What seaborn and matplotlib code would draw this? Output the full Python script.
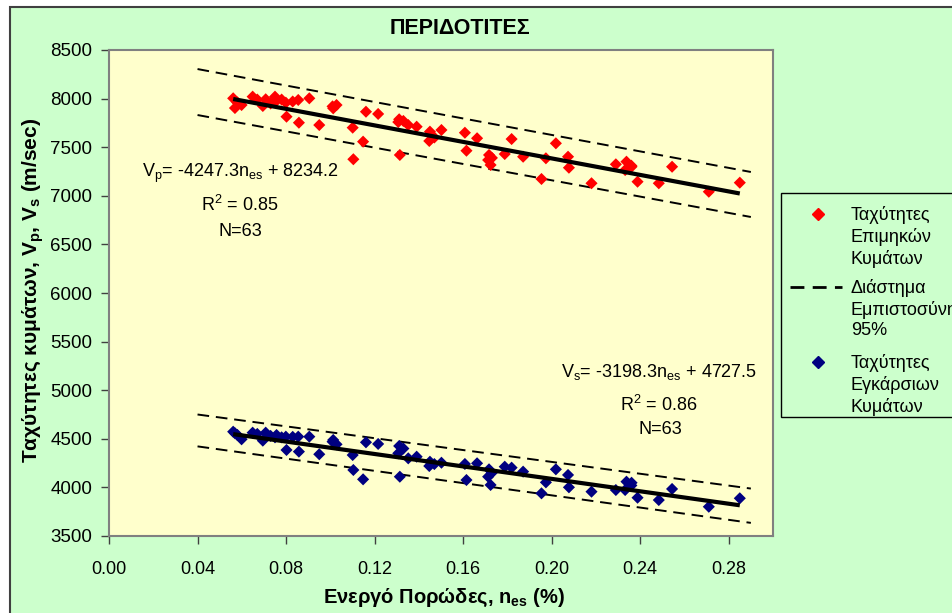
import numpy as np
import pandas as pd
import matplotlib
matplotlib.use("Agg")
import matplotlib.pyplot as plt
from matplotlib.lines import Line2D
from matplotlib.patches import Rectangle
import seaborn as sns

# Effective porosity (fraction) and wave velocities (m/sec) for 63 peridotite samples
n_es = [0.0561, 0.0569, 0.0599, 0.0649, 0.0695, 0.0708, 0.0750, 0.0757, 0.0799, 0.0802,
        0.0855, 0.0858, 0.0905, 0.0950, 0.1013, 0.1028, 0.1101, 0.1104, 0.1148, 0.1161,
        0.1216, 0.1311, 0.1307, 0.1314, 0.1352, 0.1390, 0.1447, 0.1450, 0.1502, 0.1608,
        0.1615, 0.1663, 0.1713, 0.1717, 0.1724, 0.1788, 0.1819, 0.1871, 0.1954, 0.1974,
        0.2019, 0.2074, 0.2078, 0.2180, 0.2290, 0.2338, 0.2361, 0.2332, 0.2388, 0.2484,
        0.2544, 0.2710, 0.2850,
        0.0580, 0.0670, 0.0730, 0.0780, 0.0830, 0.1010, 0.1330, 0.1470, 0.1730, 0.2360]
vp = [8003, 7903, 7934, 8020, 7924, 7993, 8020, 7978, 7958, 7814,
      7986, 7752, 8003, 7728, 7900, 7934, 7701, 7376, 7557, 7865,
      7842, 7787, 7759, 7420, 7728, 7711, 7564, 7660, 7677, 7649,
      7464, 7592, 7368, 7420, 7317, 7430, 7584, 7402, 7173, 7386,
      7540, 7402, 7289, 7129, 7324, 7351, 7299, 7265, 7145, 7129,
      7299, 7042, 7135,
      7960, 7990, 7950, 7990, 7970, 7920, 7770, 7600, 7390, 7310]
vs = [4573, 4557, 4495, 4563, 4481, 4563, 4515, 4539, 4522, 4385,
      4522, 4368, 4522, 4341, 4488, 4443, 4333, 4179, 4083, 4464,
      4447, 4426, 4351, 4110, 4299, 4316, 4220, 4264, 4254, 4241,
      4076, 4248, 4110, 4186, 4025, 4213, 4203, 4162, 3939, 4052,
      4186, 4128, 4001, 3956, 3973, 4059, 4048, 3973, 3894, 3870,
      3984, 3801, 3888,
      4540, 4550, 4530, 4515, 4520, 4470, 4400, 4240, 4150, 4020]

# Linear fits V = a * n_es + b
fit_p = (-4247.3, 8234.2)
fit_s = (-3198.3, 4727.5)

# 95% confidence band end points (n_es, lower, upper)
band_x = [0.04, 0.29]
band_p_low = [7831, 6782]
band_p_high = [8304, 7245]
band_s_low = [4422, 3635]
band_s_high = [4750, 3988]

x_ticks = [0.00, 0.04, 0.08, 0.12, 0.16, 0.20, 0.24, 0.28]
y_ticks = [3500, 4000, 4500, 5000, 5500, 6000, 6500, 7000, 7500, 8000, 8500]

legend_labels = ["Ταχύτητες\nΕπιμηκών\nΚυμάτων",
                 "Διάστημα\nΕμπιστοσύνης\n95%",
                 "Ταχύτητες\nΕγκάρσιων\nΚυμάτων"]

sns.set_theme(style="white")
plt.rcParams["font.family"] = ["Liberation Sans", "DejaVu Sans"]
plt.rcParams["mathtext.fontset"] = "custom"
plt.rcParams["mathtext.rm"] = "Liberation Sans"
plt.rcParams["mathtext.it"] = "Liberation Sans"
plt.rcParams["mathtext.bf"] = "Liberation Sans:bold"
plt.rcParams["text.color"] = "black"
plt.rcParams["axes.labelcolor"] = "black"
plt.rcParams["xtick.color"] = "black"
plt.rcParams["ytick.color"] = "black"

W, H = 953, 613
fig = plt.figure(figsize=(W / 100, H / 100), dpi=100, facecolor="white")


def fx(px):
    return px / W


def fy(py):
    return 1 - py / H


# chart area background
fig.patches.append(Rectangle((fx(10), -0.05), 1.2, fy(7) + 0.05,
                             transform=fig.transFigure, facecolor="#CCFFCC",
                             edgecolor="#404040", linewidth=1.5, zorder=-5))

ax = fig.add_axes([fx(109), fy(536), (773 - 109) / W, (536 - 50) / H])
ax.set_facecolor("#FFFFCC")

df = pd.DataFrame({
    "n_es": n_es * 2,
    "V": vp + vs,
    "kind": ["P"] * len(vp) + ["S"] * len(vs),
})

sns.scatterplot(data=df, x="n_es", y="V", hue="kind",
                palette={"P": "#FF0000", "S": "#000080"},
                marker="D", s=38, linewidth=0, legend=False, ax=ax, zorder=3)

xs = np.array([min(n_es), max(n_es)])
for a, b in (fit_p, fit_s):
    ax.plot(xs, a * xs + b, color="black", lw=3.0, solid_capstyle="butt", zorder=4)

for lo, hi in ((band_p_low, band_p_high), (band_s_low, band_s_high)):
    for yy in (lo, hi):
        ax.plot(band_x, yy, color="black", lw=1.4, dashes=(6, 3.5), zorder=2)

ax.set_xlim(0, 0.30)
ax.set_ylim(3500, 8500)
ax.set_xticks(x_ticks)
ax.set_xticklabels([f"{t:.2f}" for t in x_ticks])
ax.set_yticks(y_ticks)
ax.set_yticklabels([str(t) for t in y_ticks])
ax.tick_params(axis="both", which="both", direction="out", length=6, width=1,
               color="#404040", labelcolor="black", bottom=True, left=True)
ax.tick_params(axis="x", pad=12, labelsize=13)
ax.tick_params(axis="y", pad=6, labelsize=13.5)
for sp in ax.spines.values():
    sp.set_color("#808080")
    sp.set_linewidth(1.5)
ax.set_xlabel("")
ax.set_ylabel("")

# fit annotations
txt_kw = dict(transform=ax.transData, ha="center", va="center", fontsize=13, color="black")
ax.text(0.0592, 7230, r"V$_\mathregular{p}$= -4247.3n$_\mathregular{es}$ + 8234.2", **txt_kw)
ax.text(0.0592, 6905, r"R$^\mathregular{2}$ = 0.85", **txt_kw)
ax.text(0.0592, 6628, "N=63", **txt_kw)
ax.text(0.2484, 5190, r"V$_\mathregular{s}$= -3198.3n$_\mathregular{es}$ + 4727.5", **txt_kw)
ax.text(0.2484, 4848, r"R$^\mathregular{2}$ = 0.86", **txt_kw)
ax.text(0.2493, 4591, "N=63", **txt_kw)

# titles
fig.text(fx(460), fy(28), "ΠΕΡΙΔΟΤΙΤΕΣ", ha="center", va="center",
         fontsize=15.5, fontweight="bold")
fig.text(fx(444), fy(598), r"Ενεργό Πορώδες, n$_\mathbf{es}$ (%)", ha="center",
         va="center", fontsize=14.5, fontweight="bold")
fig.text(fx(33), fy(290), r"Ταχύτητες κυμάτων, V$_\mathbf{p}$, V$_\mathbf{s}$ (m/sec)",
         ha="center", va="center", rotation=90, fontsize=15, fontweight="bold")

# legend box with its entries
fig.patches.append(Rectangle((fx(781), fy(417)), 1.0, (417 - 193) / H,
                             transform=fig.transFigure, facecolor="#CCFFCC",
                             edgecolor="black", linewidth=1.0, zorder=1))
key_y = [214, 287, 362]
fig.add_artist(Line2D([fx(818)], [fy(key_y[0])], transform=fig.transFigure,
                      linestyle="none", marker="D", markersize=6.2, color="#FF0000"))
fig.add_artist(Line2D([fx(790), fx(842)], [fy(key_y[1])] * 2, transform=fig.transFigure,
                      color="black", lw=2, dashes=(5, 3)))
fig.add_artist(Line2D([fx(818)], [fy(key_y[2])], transform=fig.transFigure,
                      linestyle="none", marker="D", markersize=6.2, color="#000080"))
for ky, lab in zip(key_y, legend_labels):
    fig.text(fx(851), fy(ky - 8), lab, ha="left", va="top", fontsize=13,
             linespacing=1.27, color="black")

fig.savefig("out.png", dpi=100, facecolor="white")
